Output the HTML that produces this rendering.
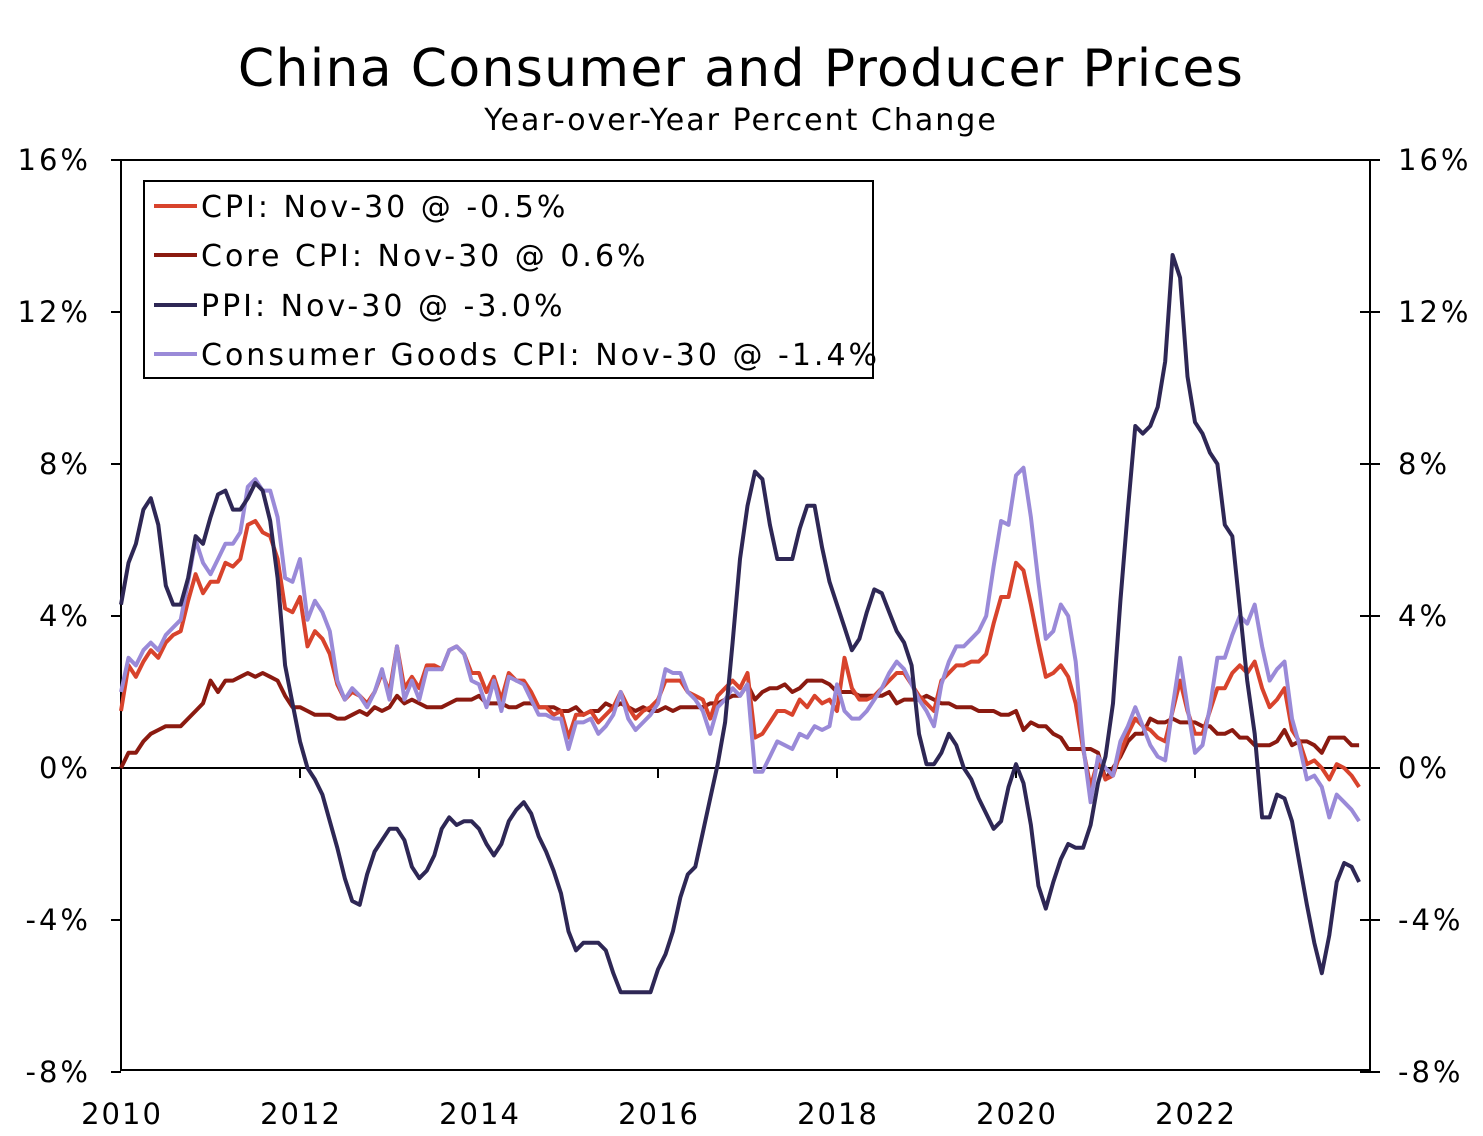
<!DOCTYPE html>
<html><head><meta charset="utf-8"><style>
body{margin:0;background:#fff;}
svg{display:block;font-family:"DejaVu Sans","Liberation Sans",sans-serif;}
</style></head><body>
<svg id="chart" width="1483" height="1136">
<text x="741" y="86" font-size="52" letter-spacing="1.3" text-anchor="middle">China Consumer and Producer Prices</text>
<text x="741" y="130" font-size="30" letter-spacing="2" text-anchor="middle">Year-over-Year Percent Change</text>
<rect x="121" y="160" width="1249" height="910" fill="none" stroke="#000" stroke-width="2"/>
<g id="axes"></g>
<g id="series"></g>
<g>
<rect x="144" y="181" width="729" height="197" fill="#fff" stroke="#000" stroke-width="2"/>
<line x1="154" y1="206" x2="197" y2="206" stroke="#d8432c" stroke-width="4"/>
<text x="201" y="217" font-size="30" letter-spacing="3">CPI: Nov-30 @ -0.5%</text>
<line x1="154" y1="255" x2="197" y2="255" stroke="#8b1a10" stroke-width="4"/>
<text x="201" y="266" font-size="30" letter-spacing="3">Core CPI: Nov-30 @ 0.6%</text>
<line x1="154" y1="305" x2="197" y2="305" stroke="#2e2755" stroke-width="4"/>
<text x="201" y="316" font-size="30" letter-spacing="3">PPI: Nov-30 @ -3.0%</text>
<line x1="154" y1="354" x2="197" y2="354" stroke="#9a8ad8" stroke-width="4"/>
<text x="201" y="365" font-size="30" letter-spacing="3">Consumer Goods CPI: Nov-30 @ -1.4%</text>
</g>
</svg>
<script>
const yTicks=[16,12,8,4,0,-4,-8];
const xYears=[2010,2012,2014,2016,2018,2020,2022];
const cpi=[1.5,2.7,2.4,2.8,3.1,2.9,3.3,3.5,3.6,4.4,5.1,4.6,4.9,4.9,5.4,5.3,5.5,6.4,6.5,6.2,6.1,5.5,4.2,4.1,4.5,3.2,3.6,3.4,3.0,2.2,1.8,2.0,1.9,1.7,2.0,2.5,2.0,3.2,2.1,2.4,2.1,2.7,2.7,2.6,3.1,3.2,3.0,2.5,2.5,2.0,2.4,1.8,2.5,2.3,2.3,2.0,1.6,1.6,1.4,1.5,0.8,1.4,1.4,1.5,1.2,1.4,1.6,2.0,1.6,1.3,1.5,1.6,1.8,2.3,2.3,2.3,2.0,1.9,1.8,1.3,1.9,2.1,2.3,2.1,2.5,0.8,0.9,1.2,1.5,1.5,1.4,1.8,1.6,1.9,1.7,1.8,1.5,2.9,2.1,1.8,1.8,1.9,2.1,2.3,2.5,2.5,2.2,1.9,1.7,1.5,2.3,2.5,2.7,2.7,2.8,2.8,3.0,3.8,4.5,4.5,5.4,5.2,4.3,3.3,2.4,2.5,2.7,2.4,1.7,0.5,-0.5,0.2,-0.3,-0.2,0.4,0.9,1.3,1.1,1.0,0.8,0.7,1.5,2.3,1.5,0.9,0.9,1.5,2.1,2.1,2.5,2.7,2.5,2.8,2.1,1.6,1.8,2.1,1.0,0.7,0.1,0.2,0.0,-0.3,0.1,0.0,-0.2,-0.5];
const coreCpi=[0.0,0.4,0.4,0.7,0.9,1.0,1.1,1.1,1.1,1.3,1.5,1.7,2.3,2.0,2.3,2.3,2.4,2.5,2.4,2.5,2.4,2.3,1.9,1.6,1.6,1.5,1.4,1.4,1.4,1.3,1.3,1.4,1.5,1.4,1.6,1.5,1.6,1.9,1.7,1.8,1.7,1.6,1.6,1.6,1.7,1.8,1.8,1.8,1.9,1.7,1.7,1.7,1.6,1.6,1.7,1.7,1.6,1.6,1.6,1.5,1.5,1.6,1.4,1.5,1.5,1.7,1.6,1.7,1.6,1.5,1.6,1.5,1.5,1.6,1.5,1.6,1.6,1.6,1.6,1.7,1.7,1.8,1.9,1.9,2.2,1.8,2.0,2.1,2.1,2.2,2.0,2.1,2.3,2.3,2.3,2.2,2.0,2.0,2.0,1.9,1.9,1.9,1.9,2.0,1.7,1.8,1.8,1.8,1.9,1.8,1.7,1.7,1.6,1.6,1.6,1.5,1.5,1.5,1.4,1.4,1.5,1.0,1.2,1.1,1.1,0.9,0.8,0.5,0.5,0.5,0.5,0.4,-0.3,0.0,0.3,0.7,0.9,0.9,1.3,1.2,1.2,1.3,1.2,1.2,1.2,1.1,1.1,0.9,0.9,1.0,0.8,0.8,0.6,0.6,0.6,0.7,1.0,0.6,0.7,0.7,0.6,0.4,0.8,0.8,0.8,0.6,0.6];
const ppi=[4.3,5.4,5.9,6.8,7.1,6.4,4.8,4.3,4.3,5.0,6.1,5.9,6.6,7.2,7.3,6.8,6.8,7.1,7.5,7.3,6.5,5.0,2.7,1.7,0.7,0.0,-0.3,-0.7,-1.4,-2.1,-2.9,-3.5,-3.6,-2.8,-2.2,-1.9,-1.6,-1.6,-1.9,-2.6,-2.9,-2.7,-2.3,-1.6,-1.3,-1.5,-1.4,-1.4,-1.6,-2.0,-2.3,-2.0,-1.4,-1.1,-0.9,-1.2,-1.8,-2.2,-2.7,-3.3,-4.3,-4.8,-4.6,-4.6,-4.6,-4.8,-5.4,-5.9,-5.9,-5.9,-5.9,-5.9,-5.3,-4.9,-4.3,-3.4,-2.8,-2.6,-1.7,-0.8,0.1,1.2,3.3,5.5,6.9,7.8,7.6,6.4,5.5,5.5,5.5,6.3,6.9,6.9,5.8,4.9,4.3,3.7,3.1,3.4,4.1,4.7,4.6,4.1,3.6,3.3,2.7,0.9,0.1,0.1,0.4,0.9,0.6,0.0,-0.3,-0.8,-1.2,-1.6,-1.4,-0.5,0.1,-0.4,-1.5,-3.1,-3.7,-3.0,-2.4,-2.0,-2.1,-2.1,-1.5,-0.4,0.3,1.7,4.4,6.8,9.0,8.8,9.0,9.5,10.7,13.5,12.9,10.3,9.1,8.8,8.3,8.0,6.4,6.1,4.2,2.3,0.9,-1.3,-1.3,-0.7,-0.8,-1.4,-2.5,-3.6,-4.6,-5.4,-4.4,-3.0,-2.5,-2.6,-3.0];
const consumerGoods=[2.0,2.9,2.7,3.1,3.3,3.1,3.5,3.7,3.9,4.9,6.0,5.4,5.1,5.5,5.9,5.9,6.2,7.4,7.6,7.3,7.3,6.6,5.0,4.9,5.5,3.9,4.4,4.1,3.6,2.3,1.8,2.1,1.9,1.6,2.0,2.6,1.8,3.2,1.8,2.3,1.8,2.6,2.6,2.6,3.1,3.2,3.0,2.3,2.2,1.6,2.3,1.5,2.4,2.3,2.2,1.8,1.4,1.4,1.3,1.3,0.5,1.2,1.2,1.3,0.9,1.1,1.4,2.0,1.3,1.0,1.2,1.4,1.7,2.6,2.5,2.5,2.0,1.8,1.5,0.9,1.6,1.8,2.1,1.9,2.2,-0.1,-0.1,0.3,0.7,0.6,0.5,0.9,0.8,1.1,1.0,1.1,2.2,1.5,1.3,1.3,1.5,1.8,2.1,2.5,2.8,2.6,2.2,1.8,1.5,1.1,2.2,2.8,3.2,3.2,3.4,3.6,4.0,5.3,6.5,6.4,7.7,7.9,6.6,4.9,3.4,3.6,4.3,4.0,2.8,0.6,-0.9,0.3,0.0,-0.2,0.7,1.1,1.6,1.1,0.6,0.3,0.2,1.6,2.9,1.6,0.4,0.6,1.6,2.9,2.9,3.5,4.0,3.8,4.3,3.2,2.3,2.6,2.8,1.3,0.6,-0.3,-0.2,-0.5,-1.3,-0.7,-0.9,-1.1,-1.4];

const NS="http://www.w3.org/2000/svg";
const x0=121,pxPerYear=89.5;
function xScale(i){return x0+i*pxPerYear/12;}
function yScale(v){return 768-v*38;}
const axes=document.getElementById('axes');
function mk(tag,attrs,parent){const e=document.createElementNS(NS,tag);for(const k in attrs)e.setAttribute(k,attrs[k]);parent.appendChild(e);return e;}
for(const t of yTicks){
  const y=yScale(t);
  const l=mk('text',{x:91,y:y+10,'font-size':29,'letter-spacing':3,'text-anchor':'end'},axes);l.textContent=t+'%';
  
  
  const r=mk('text',{x:1398,y:y+10,'font-size':29,'letter-spacing':3},axes);r.textContent=t+'%';
  
  
  mk('line',{x1:111,x2:121,y1:y,y2:y,stroke:'#000','stroke-width':2},axes);
  mk('line',{x1:1360,x2:1380,y1:y,y2:y,stroke:'#000','stroke-width':2},axes);
}
const z=mk('line',{x1:121,x2:1370,y1:yScale(0),y2:yScale(0),stroke:'#000','stroke-width':2},axes);


for(const yr of xYears){
  const x=xScale((yr-2010)*12);
  const t=mk('text',{x:x+1,y:1124,'font-size':29,'letter-spacing':2,'text-anchor':'middle'},axes);t.textContent=yr;
  
  
  mk('line',{x1:x,x2:x,y1:yScale(0),y2:yScale(0)+10,stroke:'#000','stroke-width':2},axes);
}
const sg=document.getElementById('series');
function drawLine(arr,color,name){
  const d=arr.map((v,i)=>(i?'L':'M')+xScale(i).toFixed(1)+','+yScale(v).toFixed(1)).join(' ');
  const p=mk('path',{d:d,fill:'none',stroke:color,'stroke-width':4,'stroke-linejoin':'round'},sg);
  
  
}
drawLine(coreCpi,'#8b1a10','core-cpi-line');
drawLine(cpi,'#d8432c','cpi-line');
drawLine(consumerGoods,'#9a8ad8','consumer-goods-cpi-line');
drawLine(ppi,'#2e2755','ppi-line');
</script>
</body></html>
